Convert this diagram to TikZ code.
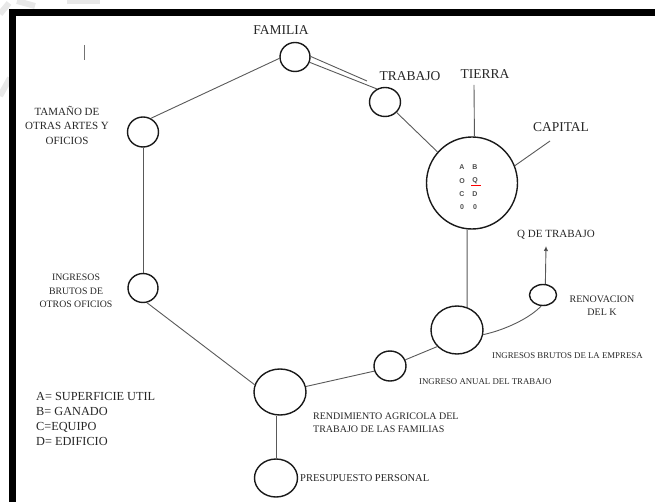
\documentclass[tikz,border=0pt]{standalone}
\usepackage{fontspec}
\setmainfont{Liberation Serif}
\newfontfamily\gridfont{Liberation Sans}
\usetikzlibrary{shapes.geometric,arrows.meta}
\begin{document}
\begin{tikzpicture}[x=1pt,y=-1pt,
  circ/.style={ellipse, draw=black!90, line width=1.4pt, inner sep=0pt},
  conn/.style={draw=black!65, line width=0.9pt},
  lbl/.style={text=black!85, inner sep=0pt},
  fs/.style={font=\fontsize{#1}{#1}\selectfont},
  grid/.style={text=black!70, inner sep=0pt, font=\gridfont\bfseries\fontsize{7}{7}\selectfont},
  wmark/.style={draw=black!9, line width=6pt}]
\useasboundingbox (0,0) rectangle (655,502);
% watermark fragments
\draw[wmark] (0,14) -- (9,3);
\draw[wmark] (0,96) -- (10,78);
\draw[wmark] (17,1) -- (35,6);
\draw[wmark] (67,1) -- (100,1);
% frame
\fill[black] (9,9) rectangle (655,16);
\fill[black] (9,9) rectangle (16,502);
% cursor mark
\draw[draw=black!55, line width=0.9pt] (84,45) -- (84,60);
% circles
\node[circ,minimum width=30pt,minimum height=29pt] (fam) at (295,57) {};
\node[circ,minimum width=31pt,minimum height=30pt] (tam) at (143,132) {};
\node[circ,minimum width=30pt,minimum height=29pt] (ing) at (143,288) {};
\node[circ,minimum width=52pt,minimum height=46pt] (rend) at (280,392) {};
\node[circ,minimum width=43pt,minimum height=38pt] (pres) at (276,478) {};
\node[circ,minimum width=32pt,minimum height=30pt] (inga) at (390,366) {};
\node[circ,minimum width=52pt,minimum height=48pt] (ibe) at (457,330) {};
\node[circ,minimum width=27pt,minimum height=21pt] (reno) at (543,295) {};
\node[circ,minimum width=31pt,minimum height=29pt] (trab) at (385,102) {};
\node[circ,minimum width=91pt,minimum height=92pt] (main) at (472,183) {};
% free ends
\coordinate (famB) at (367,81);
\coordinate (tierraT) at (474,85);
\coordinate (capT) at (550,141);
\coordinate (qtip) at (546,246);
% connectors
\draw[conn] (fam.185) -- (tam.60);
\draw[conn] (tam.south) -- (ing.north);
\draw[conn] (ing.-75) -- (rend.164);
\draw[conn] (rend.south -| pres.north) -- (pres.north);
\draw[conn] (rend.12) -- (inga.198);
\draw[conn] (inga.22) -- (ibe.220);
\draw[conn] (ibe.66) -- (main.-96);
\draw[conn] (ibe.-10) .. controls (505,330) and (530,318) .. (reno.-100);
\draw[conn,-{Latex[length=5pt,width=4.5pt,fill=black]}] (reno.78) -- (qtip);
\draw[conn] (fam.2) -- (famB);
\draw[conn] (fam.-20) -- (trab.122);
\draw[conn] (trab.-42) -- (main.138);
\draw[conn] (main.87) -- (tierraT);
\draw[conn] (main.22) -- (capT);
% labels
\node[lbl,fs=13.5] (lfam) at (281,30) {FAMILIA};
\node[lbl,fs=13.5] (ltrab) at (410,76) {TRABAJO};
\node[lbl,fs=13.5] (ltierra) at (485,74) {TIERRA};
\node[lbl,fs=13.5] (lcap) at (561,127) {CAPITAL};
\node[lbl,align=center,font=\fontsize{11}{14.5}\selectfont] (ltam) at (67,125) {TAMAÑO DE\\OTRAS ARTES Y\\OFICIOS};
\node[lbl,align=center,font=\fontsize{9.8}{13.5}\selectfont] (ling) at (76,291) {INGRESOS\\BRUTOS DE\\OTROS OFICIOS};
\node[lbl,align=left,anchor=west,font=\fontsize{12.3}{15}\selectfont] (legend) at (36,418.5) {A= SUPERFICIE UTIL\\B= GANADO\\C=EQUIPO\\D= EDIFICIO};
\node[lbl,align=left,anchor=west,font=\fontsize{10}{13}\selectfont] (lrend) at (313,422.5) {RENDIMIENTO AGRICOLA DEL\\TRABAJO DE LAS FAMILIAS};
\node[lbl,anchor=west,fs=10.5] (lpres) at (300,478) {PRESUPUESTO PERSONAL};
\node[lbl,anchor=west,fs=8.8] (libe) at (492,356) {INGRESOS BRUTOS DE LA EMPRESA};
\node[lbl,anchor=west,fs=8.8] (linga) at (419,382) {INGRESO ANUAL DEL TRABAJO};
\node[lbl,align=center,font=\fontsize{10}{13}\selectfont] (lreno) at (602,305.5) {RENOVACION\\DEL K};
\node[lbl,fs=11] (lq) at (556,235) {Q DE TRABAJO};
% grid inside main circle
\node[grid] (gA) at (462,167) {A};
\node[grid] (gB) at (475,167) {B};
\node[grid] (gO) at (462,181) {O};
\node[grid] (gQ) at (475,181) {Q};
\node[grid] (gC) at (462,194) {C};
\node[grid] (gD) at (475,194) {D};
\node[grid] (g0a) at (462,207) {0};
\node[grid] (g0b) at (475,207) {0};
\draw[red, line width=0.9pt] (471,185.8) -- (481,185.8);
\end{tikzpicture}
\end{document}
